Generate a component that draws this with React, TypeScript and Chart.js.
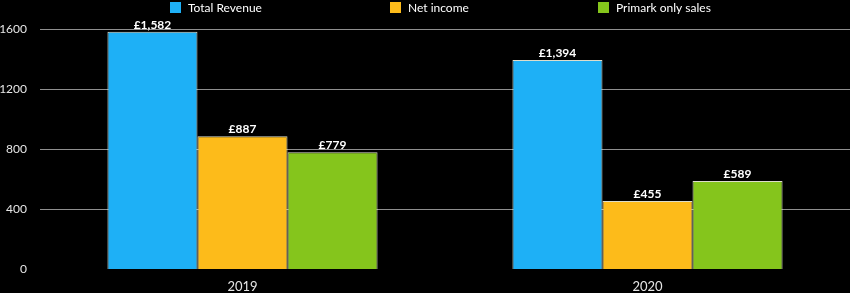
import React, { useEffect, useRef } from "react";
import { Chart, registerables } from "chart.js";

Chart.register(...registerables);

const categories = ["2019", "2020"];
const seriesNames = ["Total Revenue", "Net income", "Primark only sales"];
const totalRevenue = [1582, 1394];
const netIncome = [887, 455];
const primarkSales = [779, 589];
const colors = ["#1eb0f6", "#fdbb1a", "#85c51c"];
const yTicks = [0, 400, 800, 1200, 1600];
const legendX = [170, 390, 598];

const FONT = "Lato, 'Open Sans', sans-serif";

const labelPlugin = {
  id: "valueLabels",
  afterDatasetsDraw(chart: any) {
    const ctx = chart.ctx;
    ctx.save();
    ctx.font = `bold 12px ${FONT}`;
    ctx.fillStyle = "#ffffff";
    ctx.textAlign = "center";
    ctx.textBaseline = "bottom";
    chart.data.datasets.forEach((ds: any, i: number) => {
      const meta = chart.getDatasetMeta(i);
      meta.data.forEach((bar: any, j: number) => {
        const v = ds.data[j];
        ctx.fillText("£" + v.toLocaleString("en-GB"), bar.x, bar.y - 1);
      });
    });
    ctx.restore();
  },
};

const legendPlugin = {
  id: "customLegend",
  afterDraw(chart: any) {
    const ctx = chart.ctx;
    ctx.save();
    ctx.font = `12px ${FONT}`;
    ctx.textBaseline = "middle";
    ctx.textAlign = "left";
    seriesNames.forEach((name, i) => {
      const x = legendX[i];
      ctx.fillStyle = colors[i];
      ctx.fillRect(x, 2, 11, 11);
      ctx.fillStyle = "#ffffff";
      ctx.fillText(name, x + 18, 8);
    });
    ctx.restore();
  },
};

export default function App() {
  const ref = useRef<HTMLCanvasElement>(null);
  useEffect(() => {
    document.body.style.margin = "0";
    document.body.style.background = "#000";
    const chart = new Chart(ref.current!, {
      type: "bar",
      data: {
        labels: categories,
        datasets: [totalRevenue, netIncome, primarkSales].map((d, i) => ({
          label: seriesNames[i],
          data: d,
          backgroundColor: colors[i],
          borderColor: "rgba(245,245,225,0.9)",
          borderWidth: 1,
          categoryPercentage: 0.667,
          barPercentage: 1,
        })),
      },
      options: {
        animation: false,
        responsive: false,
        maintainAspectRatio: false,
        layout: { padding: { top: 29, left: 0, right: 0, bottom: -2 } },
        plugins: { legend: { display: false }, tooltip: { enabled: false } },
        scales: {
          x: {
            grid: { display: false, drawTicks: true, tickLength: 10 },
            border: { display: false },
            ticks: { color: "#e6e6e6", font: { family: FONT, size: 13 }, padding: 0 },
          },
          y: {
            min: 0,
            max: 1600,
            afterBuildTicks: (axis: any) => {
              axis.ticks = yTicks.map((v) => ({ value: v }));
            },
            afterFit: (axis: any) => {
              axis.width = 40;
            },
            grid: {
              color: (c: any) => (c.tick && c.tick.value === 0 ? "rgba(0,0,0,0)" : "#8f8f8f"),
              drawTicks: false,
              lineWidth: 1,
            },
            border: { display: false },
            ticks: {
              color: "#e6e6e6",
              font: { family: FONT, size: 12 },
              padding: 13,
              callback: (v: any) => String(v),
            },
          },
        },
      },
      plugins: [labelPlugin, legendPlugin],
    });
    return () => chart.destroy();
  }, []);
  return (
    <div style={{ position: "absolute", left: 0, top: 0, width: 850, height: 293, background: "#000" }}>
      <canvas ref={ref} width={850} height={293} />
    </div>
  );
}
